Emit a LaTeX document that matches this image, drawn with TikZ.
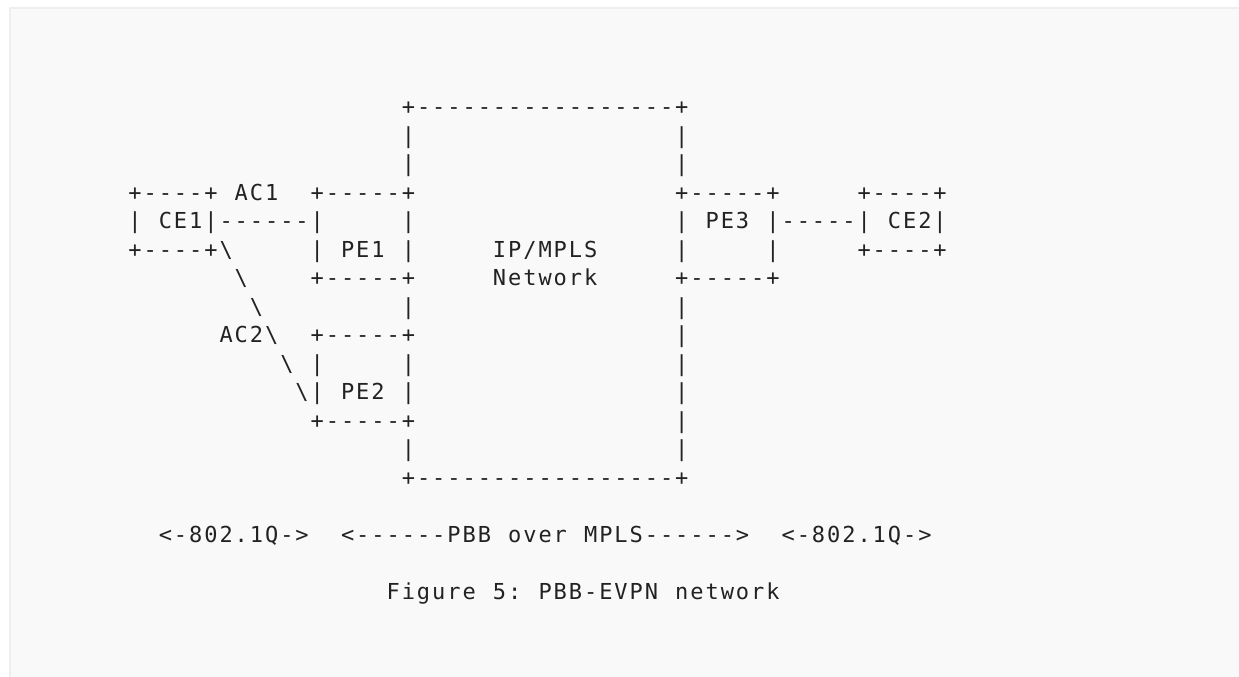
\documentclass[tikz,border=0pt]{standalone}
\usepackage{fontspec}
\newfontfamily\asciifont[LetterSpace=8.84,Ligatures=TeXOff]{DejaVu Sans Mono}
\definecolor{pagebg}{HTML}{F9F9F9}
\definecolor{frameline}{HTML}{EEEEEE}
\definecolor{ink}{HTML}{222222}
\newcommand\asciiseg[4]{\node[txt] (#1) at ({128.4+#2*15.19},{-(200+(#3-4)*28.5)}) {#4};}
\begin{document}
\begin{tikzpicture}[x=1pt,y=1pt,
  txt/.style={anchor=base west,inner sep=0pt,outer sep=0pt,text=ink,
    font=\asciifont\fontsize{22}{22}\selectfont}]
\useasboundingbox (0,0) rectangle (1239,-677);
\fill[white] (0,0) rectangle (1239,-677);
\draw[frameline,fill=pagebg,line width=2pt] (10,-8) rectangle (1260,-700);
% row 1
\asciiseg{r1a}{18}{1}{+-----------------+}
% rows 2-3
\asciiseg{r2a}{18}{2}{|}\asciiseg{r2b}{36}{2}{|}
\asciiseg{r3a}{18}{3}{|}\asciiseg{r3b}{36}{3}{|}
% row 4
\asciiseg{r4a}{0}{4}{+----+}
\asciiseg{r4b}{7}{4}{AC1}
\asciiseg{r4c}{12}{4}{+-----+}
\asciiseg{r4d}{36}{4}{+-----+}
\asciiseg{r4e}{48}{4}{+----+}
% row 5
\asciiseg{r5a}{0}{5}{|}
\asciiseg{r5b}{2}{5}{CE1|------|}
\asciiseg{r5c}{18}{5}{|}
\asciiseg{r5d}{36}{5}{|}
\asciiseg{r5e}{38}{5}{PE3}
\asciiseg{r5f}{42}{5}{|-----|}
\asciiseg{r5g}{50}{5}{CE2|}
% row 6
\asciiseg{r6a}{0}{6}{+----+\textbackslash}
\asciiseg{r6b}{12}{6}{|}
\asciiseg{r6c}{14}{6}{PE1}
\asciiseg{r6d}{18}{6}{|}
\asciiseg{r6e}{24}{6}{IP/MPLS}
\asciiseg{r6f}{36}{6}{|}
\asciiseg{r6g}{42}{6}{|}
\asciiseg{r6h}{48}{6}{+----+}
% row 7
\asciiseg{r7a}{7}{7}{\textbackslash}
\asciiseg{r7b}{12}{7}{+-----+}
\asciiseg{r7c}{24}{7}{Network}
\asciiseg{r7d}{36}{7}{+-----+}
% row 8
\asciiseg{r8a}{8}{8}{\textbackslash}
\asciiseg{r8b}{18}{8}{|}
\asciiseg{r8c}{36}{8}{|}
% row 9
\asciiseg{r9a}{6}{9}{AC2\textbackslash}
\asciiseg{r9b}{12}{9}{+-----+}
\asciiseg{r9c}{36}{9}{|}
% row 10
\asciiseg{r10a}{10}{10}{\textbackslash}
\asciiseg{r10b}{12}{10}{|}
\asciiseg{r10c}{18}{10}{|}
\asciiseg{r10d}{36}{10}{|}
% row 11
\asciiseg{r11a}{11}{11}{\textbackslash|}
\asciiseg{r11b}{14}{11}{PE2}
\asciiseg{r11c}{18}{11}{|}
\asciiseg{r11d}{36}{11}{|}
% row 12
\asciiseg{r12a}{12}{12}{+-----+}
\asciiseg{r12b}{36}{12}{|}
% row 13
\asciiseg{r13a}{18}{13}{|}
\asciiseg{r13b}{36}{13}{|}
% row 14
\asciiseg{r14a}{18}{14}{+-----------------+}
% row 16
\asciiseg{r16a}{2}{16}{<-802.1Q->}
\asciiseg{r16b}{14}{16}{<------PBB}
\asciiseg{r16c}{25}{16}{over}
\asciiseg{r16d}{30}{16}{MPLS------>}
\asciiseg{r16e}{43}{16}{<-802.1Q->}
% row 18
\asciiseg{r18a}{17}{18}{Figure}
\asciiseg{r18b}{24}{18}{5:}
\asciiseg{r18c}{27}{18}{PBB-EVPN}
\asciiseg{r18d}{36}{18}{network}
\end{tikzpicture}
\end{document}
